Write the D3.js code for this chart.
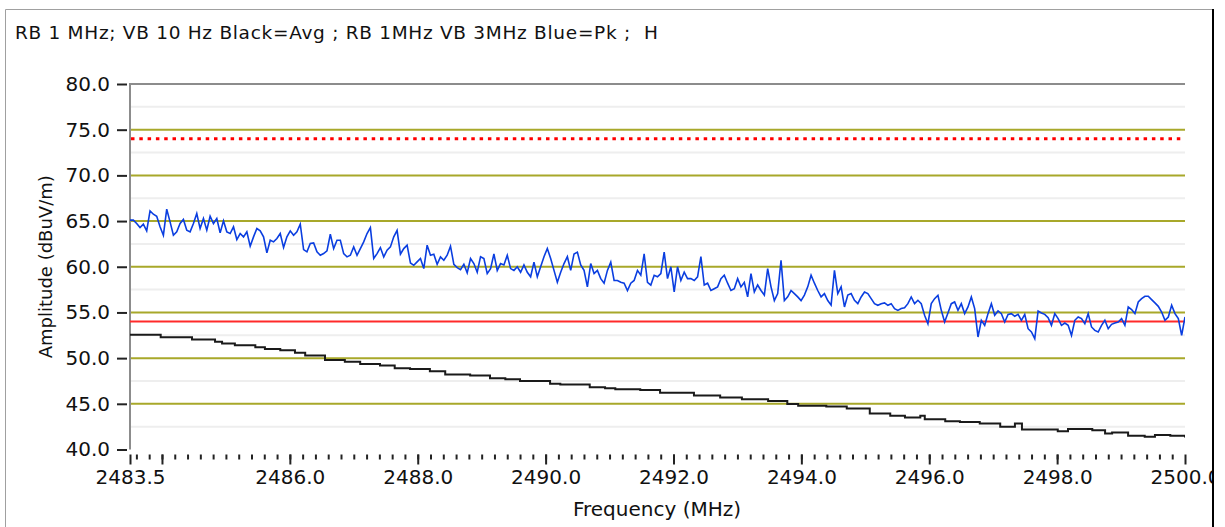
<!DOCTYPE html>
<html>
<head>
<meta charset="utf-8">
<script src="https://cdn.jsdelivr.net/npm/d3@7"></script>
<style>
  html, body { margin: 0; padding: 0; background: #ffffff; }
  svg { display: block; }
  text { font-family: "DejaVu Sans", Verdana, sans-serif; fill: #111; }
</style>
</head>
<body>
<svg id="chart" width="1225" height="527"></svg>
<script>
// ---------------- DATA ----------------
const titleText = "RB 1 MHz; VB 10 Hz Black=Avg ; RB 1MHz VB 3MHz Blue=Pk ;  H";
const xAxisTitle = "Frequency (MHz)";
const yAxisTitle = "Amplitude (dBuV/m)";

const freqStart = 2483.5;
const freqEnd = 2500.0;
const xTickLabels = [2483.5, 2486.0, 2488.0, 2490.0, 2492.0, 2494.0, 2496.0, 2498.0, 2500.0];
const xMajorTicks = [2483.5, 2484, 2486, 2488, 2490, 2492, 2494, 2496, 2498, 2500];
const yTickLabels = [40, 45, 50, 55, 60, 65, 70, 75, 80];
const yMajorGrid = [45, 50, 55, 60, 65, 70, 75];
const yMinorGrid = [42.5, 47.5, 52.5, 57.5, 62.5, 67.5, 72.5, 77.5];

const limitPeak = 74.0;   // red dotted
const limitAvg = 54.0;    // red solid

// Blue = Peak trace, sweep points evenly spaced from freqStart to freqEnd
const peakValues = [
  65.10, 65.10, 64.73, 64.29, 64.66, 63.93, 66.12, 65.75, 65.53, 64.37,
  63.45, 66.30, 64.91, 63.45, 63.82, 64.73, 65.17, 64.00, 63.82, 64.73,
  65.83, 64.18, 65.28, 64.00, 65.53, 64.73, 65.28, 63.71, 65.02, 63.82,
  63.64, 64.37, 62.98, 63.64, 63.27, 63.82, 62.25, 63.27, 64.18, 63.93,
  63.27, 61.52, 62.90, 62.72, 63.09, 63.64, 62.10, 63.27, 63.93, 63.45,
  63.82, 64.66, 61.88, 61.63, 62.54, 62.61, 61.63, 61.26, 61.44, 61.74,
  63.56, 61.99, 62.90, 62.90, 61.44, 61.08, 61.26, 62.17, 61.26, 61.99,
  62.72, 63.64, 64.29, 60.90, 61.44, 62.10, 61.08, 61.81, 62.17, 63.27,
  63.99, 61.37, 61.99, 62.36, 60.42, 60.16, 60.53, 60.90, 59.80, 62.36,
  61.26, 61.37, 60.27, 61.08, 60.71, 61.26, 62.25, 60.27, 59.91, 59.69,
  60.27, 59.33,
  60.90, 60.35, 59.40, 61.10, 60.90, 59.25, 59.80, 61.40, 59.60, 60.35,
  60.20, 61.26, 59.80, 59.60, 60.00, 59.40, 60.20, 59.40, 58.90, 60.50,
  58.90, 60.00, 61.10, 62.00, 60.90, 59.60, 58.30, 59.40, 60.35, 61.10,
  59.60, 61.40, 61.60, 60.20, 59.60, 57.80, 60.35, 59.25, 59.60, 58.70,
  58.20, 59.60, 60.50, 58.50, 58.50, 58.30, 58.20, 57.40, 58.20, 58.50,
  59.60, 59.07, 61.40, 58.30, 58.00, 59.07, 58.90, 59.25, 61.60, 58.70,
  60.00, 57.24, 60.00, 58.50, 59.40, 58.70, 58.70, 58.50, 58.90, 61.10,
  58.00, 58.20, 57.40, 57.60, 57.80, 58.70, 59.07, 58.20, 57.40, 57.60,
  58.70, 57.80, 58.30, 56.70, 59.25, 57.24, 58.00, 57.40, 56.90, 59.80,
  57.80, 56.30, 57.06, 60.70, 56.30, 56.70, 57.40, 57.06, 56.70, 56.30,
  56.90, 57.80, 59.07, 58.20, 57.40, 56.70, 57.06, 56.30, 55.80, 59.60,
  57.06, 57.80, 55.60, 56.90,
  57.06, 56.33, 55.96, 56.69, 57.24, 57.06, 56.51, 55.96, 55.78, 55.96,
  56.04, 55.78, 55.96, 55.42, 55.23, 55.42, 55.52, 55.96, 56.69, 55.96,
  56.33, 55.96, 54.69, 53.77, 55.96, 56.51, 56.88, 55.23, 53.95, 54.94,
  55.96, 56.15, 55.23, 55.96, 54.87, 55.60, 56.69, 55.42, 52.31, 54.14,
  53.59, 54.87, 55.96, 54.69, 55.16, 54.87, 53.95, 54.79, 54.87, 54.58,
  54.79, 54.14, 54.79, 53.22, 52.86, 52.13, 55.16, 54.94, 54.79, 54.43,
  53.59, 54.87, 54.32, 53.59, 53.84, 53.59, 52.49, 54.14, 54.50, 54.32,
  53.77, 54.87, 53.41, 53.04, 52.86, 53.59, 54.14, 53.22, 53.70, 53.84,
  53.95, 54.32, 53.59, 55.60, 55.31, 54.87, 56.15, 56.51, 56.77, 56.77,
  56.40, 56.04, 55.67, 55.05, 54.14, 54.50, 55.78, 54.87, 54.32, 52.49,
  54.50
];

// Black = Average trace
const avgFreq = [
  2483.50, 2483.98, 2484.47, 2484.83, 2484.94, 2485.14, 2485.46, 2485.61, 2485.85, 2486.08,
  2486.24, 2486.55, 2486.86, 2487.10, 2487.41, 2487.64, 2487.88, 2488.19, 2488.43, 2488.82,
  2489.13, 2489.37, 2489.60, 2490.07, 2490.23, 2490.69, 2490.93, 2491.09, 2491.48, 2491.79,
  2492.32, 2492.73, 2493.07, 2493.48, 2493.78, 2493.95, 2494.39, 2494.71, 2495.07, 2495.39,
  2495.62, 2495.86, 2495.93, 2496.25, 2496.48, 2496.79, 2497.11, 2497.34, 2497.45, 2497.81,
  2498.01, 2498.17, 2498.55, 2498.75, 2498.86, 2499.11, 2499.37, 2499.53, 2499.77, 2500.00
];
const avgValues = [
  52.56, 52.29, 52.05, 51.80, 51.60, 51.40, 51.20, 51.00, 50.85, 50.60,
  50.30, 49.80, 49.60, 49.36, 49.20, 48.90, 48.80, 48.55, 48.20, 48.10,
  47.80, 47.70, 47.50, 47.20, 47.10, 46.80, 46.70, 46.60, 46.50, 46.20,
  45.90, 45.70, 45.50, 45.30, 44.97, 44.80, 44.70, 44.50, 43.95, 43.70,
  43.50, 43.70, 43.30, 43.10, 43.00, 42.85, 42.50, 42.85, 42.20, 42.20,
  42.00, 42.25, 42.10, 41.75, 41.85, 41.50, 41.40, 41.60, 41.50, 41.30
];

// ---------------- DRAW ----------------
const svg = d3.select("#chart");
const W = 1225, H = 527;
const plot = { left: 130, right: 1185, top: 84, bottom: 449.5 };

const x = d3.scaleLinear().domain([freqStart, freqEnd]).range([plot.left, plot.right]);
const y = d3.scaleLinear().domain([40, 80]).range([plot.bottom, plot.top]);

svg.append("rect").attr("width", W).attr("height", H).attr("fill", "#ffffff");

const defs = svg.append("defs");
defs.append("clipPath").attr("id", "panelClip")
  .append("rect").attr("x", 6).attr("y", 10).attr("width", 1206).attr("height", 600);
defs.append("clipPath").attr("id", "plotClip")
  .append("rect").attr("x", plot.left).attr("y", plot.top - 2)
  .attr("width", plot.right - plot.left).attr("height", plot.bottom - plot.top + 4);

const panel = svg.append("g").attr("clip-path", "url(#panelClip)");

// frame
svg.append("line").attr("x1", 5.5).attr("x2", 5.5).attr("y1", 9.5).attr("y2", H)
  .attr("stroke", "#a0a0a0").attr("stroke-width", 1);
svg.append("line").attr("x1", 5.5).attr("x2", 1213).attr("y1", 9.5).attr("y2", 9.5)
  .attr("stroke", "#a0a0a0").attr("stroke-width", 1);
svg.append("line").attr("x1", 1213).attr("x2", 1213).attr("y1", 9).attr("y2", H)
  .attr("stroke", "#000000").attr("stroke-width", 2);

// title
panel.append("text").attr("x", 15).attr("y", 39)
  .style("font-size", "18.5px").style("white-space", "pre")
  .attr("textLength", 643).attr("lengthAdjust", "spacing")
  .text(titleText);

// minor grid
panel.append("g").selectAll("line").data(yMinorGrid).join("line")
  .attr("x1", plot.left).attr("x2", plot.right)
  .attr("y1", d => y(d)).attr("y2", d => y(d))
  .attr("stroke", "#eeeeee").attr("stroke-width", 2);

// major grid (olive)
panel.append("g").selectAll("line").data(yMajorGrid).join("line")
  .attr("x1", plot.left).attr("x2", plot.right)
  .attr("y1", d => y(d)).attr("y2", d => y(d))
  .attr("stroke", "#a8a82a").attr("stroke-width", 2);

// top border of plot
panel.append("line").attr("x1", plot.left).attr("x2", plot.right)
  .attr("y1", y(80)).attr("y2", y(80)).attr("stroke", "#8c8c8c").attr("stroke-width", 2);

// y axis line
panel.append("line").attr("x1", plot.left).attr("x2", plot.left)
  .attr("y1", plot.top - 1).attr("y2", plot.bottom).attr("stroke", "#8c8c8c").attr("stroke-width", 2);

// limit lines
const plotG = panel.append("g").attr("clip-path", "url(#plotClip)");
plotG.append("line").attr("x1", plot.left).attr("x2", plot.right)
  .attr("y1", y(limitAvg)).attr("y2", y(limitAvg))
  .attr("stroke", "#ff2a2a").attr("stroke-width", 2);
plotG.append("line").attr("x1", plot.left + 1).attr("x2", plot.right)
  .attr("y1", y(limitPeak)).attr("y2", y(limitPeak))
  .attr("stroke", "#ff0000").attr("stroke-width", 3).attr("stroke-dasharray", "3.5,4.8");

// traces
const n = peakValues.length;
const peakData = peakValues.map((v, i) => ({ f: freqStart + (freqEnd - freqStart) * i / (n - 1), v }));
const avgData = avgFreq.map((f, i) => ({ f, v: avgValues[i] }));

plotG.append("path").datum(avgData)
  .attr("d", d3.line().x(d => x(d.f)).y(d => y(d.v)).curve(d3.curveStepAfter))
  .attr("fill", "none").attr("stroke", "#1a1a1a").attr("stroke-width", 2);
plotG.append("path").datum(peakData)
  .attr("d", d3.line().x(d => x(d.f)).y(d => y(d.v)))
  .attr("fill", "none").attr("stroke", "#0a3ee0").attr("stroke-width", 1.6)
  .attr("stroke-linejoin", "miter");

// y axis ticks + labels
const yAxis = d3.axisLeft(y).tickValues(yTickLabels).tickFormat(d3.format(".1f"))
  .tickSize(10).tickPadding(7).tickSizeOuter(0);
const yg = panel.append("g").attr("transform", `translate(${plot.left - 3},0)`).call(yAxis);
yg.select(".domain").remove();
yg.selectAll(".tick line").attr("stroke", "#222").attr("stroke-width", 2);
yg.selectAll(".tick text").style("font-family", '"DejaVu Sans", Verdana, sans-serif')
  .style("font-size", "20px").attr("fill", "#111");

// x axis
const xBaseY = plot.bottom + 5;
const minorTicks = d3.range(0, 83).map(i => freqStart + 0.1 + 0.2 * i).filter(f => f < freqEnd - 0.01);
const xMinor = d3.axisBottom(x).tickValues(minorTicks).tickSize(5).tickFormat("").tickSizeOuter(0);
const xmg = panel.append("g").attr("transform", `translate(0,${xBaseY})`).call(xMinor);
xmg.select(".domain").remove();
xmg.selectAll(".tick line").attr("stroke", "#222").attr("stroke-width", 2);

const xMajor = d3.axisBottom(x).tickValues(xMajorTicks).tickSize(10).tickFormat("").tickSizeOuter(0);
const xjg = panel.append("g").attr("transform", `translate(0,${xBaseY})`).call(xMajor);
xjg.select(".domain").remove();
xjg.selectAll(".tick line").attr("stroke", "#222").attr("stroke-width", 2);

const xLab = d3.axisBottom(x).tickValues(xTickLabels).tickFormat(d3.format(".1f")).tickSize(10).tickPadding(5).tickSizeOuter(0);
const xlg = panel.append("g").attr("transform", `translate(0,${xBaseY})`).call(xLab);
xlg.select(".domain").remove();
xlg.selectAll(".tick line").remove();
xlg.selectAll(".tick text").style("font-family", '"DejaVu Sans", Verdana, sans-serif')
  .style("font-size", "20px").attr("fill", "#111");

// axis titles
panel.append("text").attr("x", 657).attr("y", 516)
  .attr("text-anchor", "middle").style("font-size", "20px").text(xAxisTitle);
panel.append("text").attr("transform", `translate(52,${(plot.top + plot.bottom) / 2}) rotate(-90)`)
  .attr("text-anchor", "middle").style("font-size", "18px").text(yAxisTitle);
</script>
</body>
</html>
